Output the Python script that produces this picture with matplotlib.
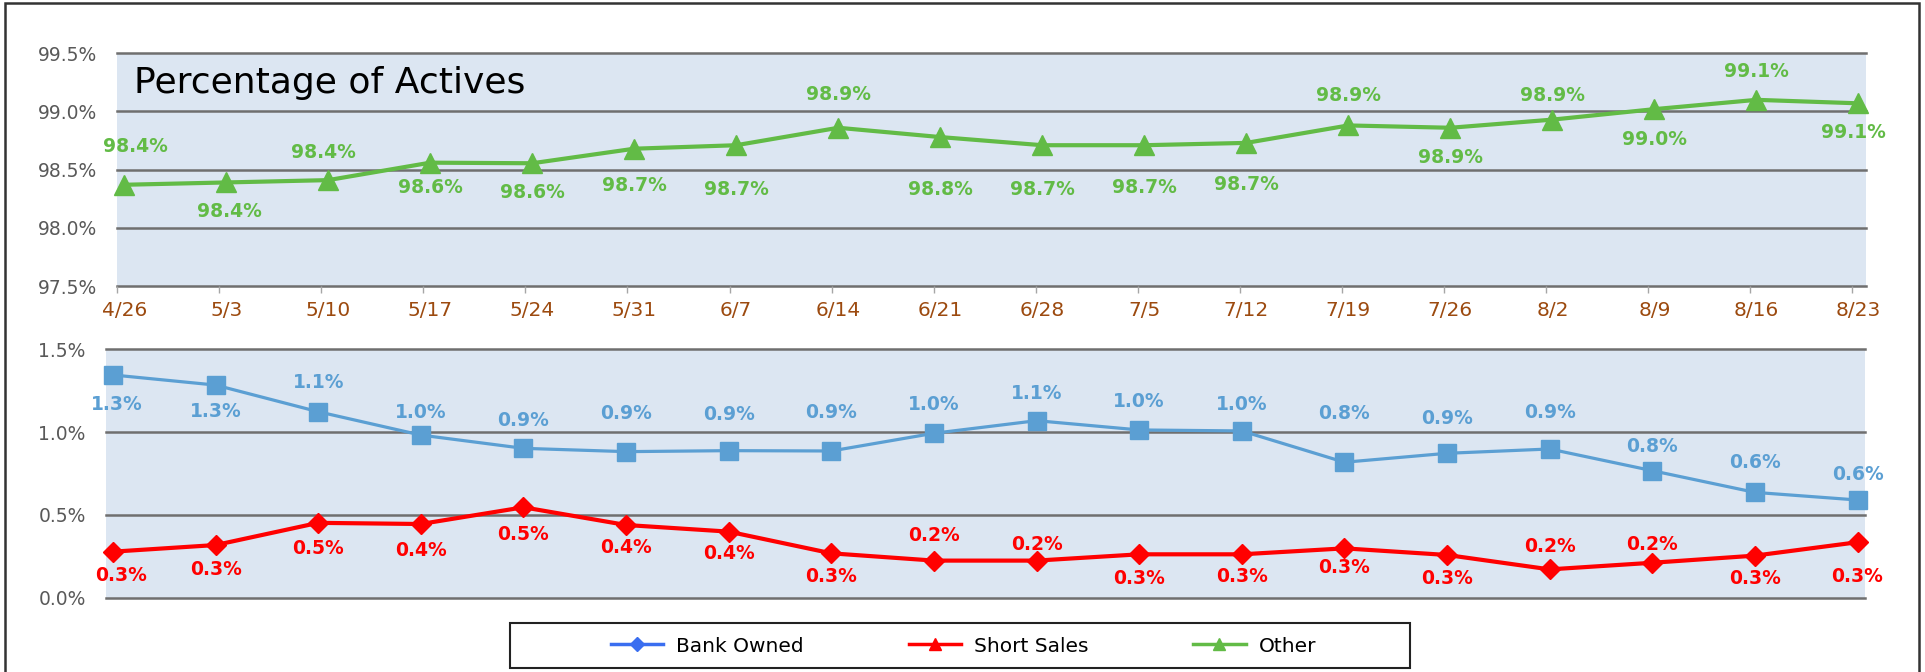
import matplotlib.pyplot as plt
import matplotlib.ticker as mticker
from matplotlib.lines import Line2D
from matplotlib.patches import Rectangle
import numpy as np

# week labels along the x axis
dates = ['4/26', '5/3', '5/10', '5/17', '5/24', '5/31', '6/7', '6/14', '6/21',
         '6/28', '7/5', '7/12', '7/19', '7/26', '8/2', '8/9', '8/16', '8/23']

# percentages
other = [98.37, 98.39, 98.41, 98.56, 98.555, 98.68, 98.71, 98.86, 98.78,
         98.71, 98.71, 98.73, 98.88, 98.86, 98.93, 99.02, 99.10, 99.07]
bank_owned = [1.345, 1.284, 1.123, 0.982, 0.902, 0.882, 0.888, 0.886, 0.993,
              1.069, 1.013, 1.007, 0.818, 0.872, 0.898, 0.767, 0.636, 0.590]
short_sales = [0.278, 0.318, 0.452, 0.445, 0.546, 0.439, 0.399, 0.268, 0.224,
               0.224, 0.262, 0.262, 0.298, 0.258, 0.171, 0.211, 0.254, 0.335]

top_ticks = [97.5, 98.0, 98.5, 99.0, 99.5]
bottom_ticks = [0.0, 0.5, 1.0, 1.5]

# label placement (pixel offsets from the marker, like the hand-moved Excel labels)
other_dy = [38, -29, 28, -25, -29, -37, -44, 33, -52, -44, -42, -42, 30, -30, 24, -30, 28, -29]
other_dx = [11, 3, -5, 0, 0, 0, 0, 0, 0, 0, 0, 0, 0, 0, 0, 0, 0, -5]
bank_dy = [-30, -26, 29, 23, 28, 38, 36, 38, 29, 27, 28, 26, 49, 35, 36, 24, 30, 25]
bank_dx = [4] + [0] * 17
short_dy = [-24, -24, -26, -26, -27, -22, -22, -23, 25, 16, -24, -22, -19, -24, 23, 18, -23, -34]
short_dx = [8] + [0] * 17

GREEN = '#62BB46'
BLUE = '#5B9FD3'
RED = '#FF0000'
BG = '#DCE6F2'
GRID = '#6F6F6F'
BROWN = '#9C4A0F'
TICKGRAY = '#595959'

W, H = 1925, 672
fig = plt.figure(figsize=(W / 100, H / 100), dpi=100)


def px_axes(left, top, right, bottom):
    return fig.add_axes([left / W, 1 - bottom / H, (right - left) / W, (bottom - top) / H])


def style_axes(ax, ticks):
    ax.set_facecolor(BG)
    for s in ax.spines.values():
        s.set_visible(False)
    ax.set_ylim(ticks[0], ticks[-1])
    ax.set_yticks(ticks)
    ax.yaxis.set_major_formatter(mticker.FuncFormatter(lambda v, p: '%.1f%%' % v))
    ax.tick_params(axis='y', length=0, pad=14.5, labelsize=13.5, labelcolor=TICKGRAY)
    for t in ticks:
        ax.axhline(t, color=GRID, lw=1.8, clip_on=False, zorder=1)


x = np.arange(len(dates))

# ---- top panel: Other ----
ax1 = px_axes(117.4, 53.3, 1865.6, 286)
style_axes(ax1, top_ticks)
ax1.set_xlim(-0.066, 17.07)
ax1.plot(x, other, color=GREEN, lw=3, marker='^', ms=15, zorder=3, clip_on=False)
ax1.set_xticks(x)
ax1.set_xticklabels(dates)
ax1.tick_params(axis='x', which='major', length=0, pad=11, labelsize=14.5, labelcolor=BROWN)
ax1.set_xticks(x - 0.066, minor=True)
ax1.tick_params(axis='x', which='minor', length=5, width=1, color='#A6A6A6')
for i, v in enumerate(other):
    ax1.annotate('%.1f%%' % v, (x[i], v), xytext=(other_dx[i], other_dy[i]),
                 textcoords='offset pixels', ha='center', va='center',
                 color=GREEN, fontsize=13.5, fontweight='bold', zorder=4)

fig.text(134 / W, 1 - 92.7 / H, 'Percentage of Actives', fontsize=26,
         color='black', ha='left', va='baseline')

# ---- bottom panel: Bank Owned / Short Sales ----
ax2 = px_axes(105.8, 349.3, 1864.7, 597.7)
style_axes(ax2, bottom_ticks)
ax2.set_xlim(-0.07, 17.07)
ax2.set_xticks([])
ax2.plot(x, bank_owned, color=BLUE, lw=2.3, marker='s', ms=13, zorder=3, clip_on=False)
ax2.plot(x, short_sales, color=RED, lw=3, marker='D', ms=10, zorder=3, clip_on=False)
for i, v in enumerate(bank_owned):
    ax2.annotate('%.1f%%' % v, (x[i], v), xytext=(bank_dx[i], bank_dy[i]),
                 textcoords='offset pixels', ha='center', va='center',
                 color=BLUE, fontsize=13.5, fontweight='bold', zorder=4)
for i, v in enumerate(short_sales):
    ax2.annotate('%.1f%%' % v, (x[i], v), xytext=(short_dx[i], short_dy[i]),
                 textcoords='offset pixels', ha='center', va='center',
                 color=RED, fontsize=13.5, fontweight='bold', zorder=4)

# legend (handles as in the original workbook)
handles = [Line2D([], [], color='#3A6EF0', lw=2.5, marker='D', ms=7),
           Line2D([], [], color=RED, lw=2.5, marker='^', ms=8),
           Line2D([], [], color=GREEN, lw=2.5, marker='^', ms=8)]
fig.legend(handles, ['Bank Owned', 'Short Sales', 'Other'], loc='center',
           bbox_to_anchor=(963.5 / W, 1 - 646 / H), ncol=3, frameon=False,
           fontsize=14.5, handlelength=2.6, handletextpad=0.65, columnspacing=5.2)
fig.patches.append(Rectangle((510 / W, 1 - 668 / H), 900 / W, 44.7 / H,
                             transform=fig.transFigure, fill=False,
                             edgecolor='#222222', lw=1.5))

# outer frame of the cropped slide
fig.patches.append(Rectangle((5 / W, -0.1), 1914 / W, 1.1 - 3.3 / H,
                             transform=fig.transFigure, fill=False,
                             edgecolor='#333333', lw=1.8))

plt.savefig('out.png', dpi=100)
